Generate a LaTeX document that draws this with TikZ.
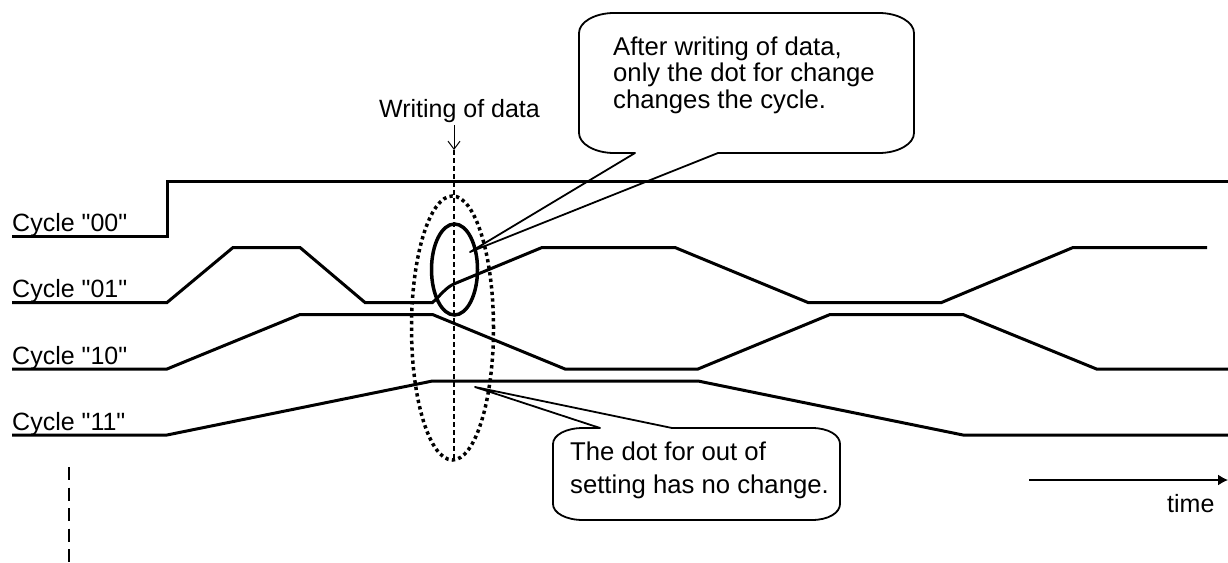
\documentclass[tikz,border=0pt]{standalone}
\usepackage{fontspec}
\setmainfont{Liberation Sans}[Ligatures=TeXOff]
\usetikzlibrary{arrows.meta}
\begin{document}
\begin{tikzpicture}[x=1pt,y=-1pt,
  wave/.style={line width=3pt, line join=miter},
  txt/.style={inner sep=0pt, font=\fontsize{25}{30}\selectfont},
  lbl/.style={txt, anchor=base west},
  ctxt/.style={lbl, font=\fontsize{25.7}{30}\selectfont},
  callout/.style={line width=1.8pt, line join=round},
  dotring/.style={line width=3.5pt, dash pattern=on 3.3pt off 3.3pt},
  ring/.style={line width=3.5pt},
  guide/.style={line width=1.2pt, dash pattern=on 5pt off 3pt},
  leftguide/.style={line width=1.5pt, dash pattern=on 13pt off 7.5pt}]
\useasboundingbox (0,0) rectangle (1228,562);

% row labels
\node[lbl] (l00) at (12,231.5) {Cycle "00"};
\node[lbl] (l01) at (12,297.5) {Cycle "01"};
\node[lbl] (l10) at (12,364) {Cycle "10"};
\node[lbl] (l11) at (12,430) {Cycle "11"};

% waveforms
\draw[wave] (12,236) -- (167,236) -- (167,181) -- (1228,181);
\draw[wave] (12,302.5) -- (167,302.5) -- (233,247.5) -- (300,247.5) -- (365,302.5) -- (432.5,302.5)
  .. controls (440,296) and (446,287) .. (455,283.5) -- (542,247.5) -- (675,247.5) -- (808,302.5)
  -- (941.5,302.5) -- (1073,247.5) -- (1207,247.5);
\draw[wave] (12,369) -- (167,369) -- (300,314.5) -- (432.5,314.5) -- (565,369) -- (698,369)
  -- (830,314.5) -- (963,314.5) -- (1096.5,369) -- (1228,369);
\draw[wave] (12,435) -- (167,435) -- (432.5,381) -- (698,381) -- (963,435) -- (1228,435);

% writing of data marker
\node[txt, anchor=base] (wod) at (459.5,117) {Writing of data};
\coordinate (wstart) at (454,125);
\coordinate (wtip) at (454,150);
\coordinate (wbot) at (454,460);
\draw[line width=1pt, -{Straight Barb[length=8pt,width=12pt]}] (wstart) -- (wtip);
\draw[guide] (wtip) -- (wbot);

% ellipses
\draw[dotring] (452.5,328) ellipse [x radius=41pt, y radius=132pt];
\draw[ring] (454.5,269.5) ellipse [x radius=23pt, y radius=45.5pt];

% callout 1
\coordinate (tip1) at (470,252);
\draw[callout] (635,153) -- (tip1) -- (718,153) -- (879,153)
  .. controls (898,153) and (914,144) .. (914,133) -- (914,33)
  .. controls (914,22) and (898,13) .. (879,13) -- (614,13)
  .. controls (595,13) and (579,22) .. (579,33) -- (579,133)
  .. controls (579,144) and (595,153) .. (614,153) -- cycle;
\node[ctxt] (c1a) at (613,55) {After writing of data,};
\node[ctxt] (c1b) at (613,81.7) {only the dot for change};
\node[ctxt] (c1c) at (613,108.3) {changes the cycle.};

% callout 2
\coordinate (tip2) at (475,387);
\draw[callout] (600,428) -- (tip2) -- (672,428) -- (812,428)
  .. controls (828,428) and (840,435) .. (840,444) -- (840,504)
  .. controls (840,513) and (828,520) .. (812,520) -- (583,520)
  .. controls (566,520) and (553,513) .. (553,504) -- (553,444)
  .. controls (553,435) and (566,428) .. (583,428) -- cycle;
\node[ctxt] (c2a) at (570,460) {The dot for out of};
\node[ctxt] (c2b) at (570,493) {setting has no change.};

% time axis
\coordinate (t0) at (1029,480);
\coordinate (t1) at (1228,480);
\draw[line width=1.5pt, -{Latex[length=10pt,width=11pt]}] (t0) -- (t1);
\node[lbl] (time) at (1167,512) {time};

% left dashed guide
\coordinate (g0) at (69,467);
\coordinate (g1) at (69,562);
\draw[leftguide] (g0) -- (g1);
\end{tikzpicture}
\end{document}
